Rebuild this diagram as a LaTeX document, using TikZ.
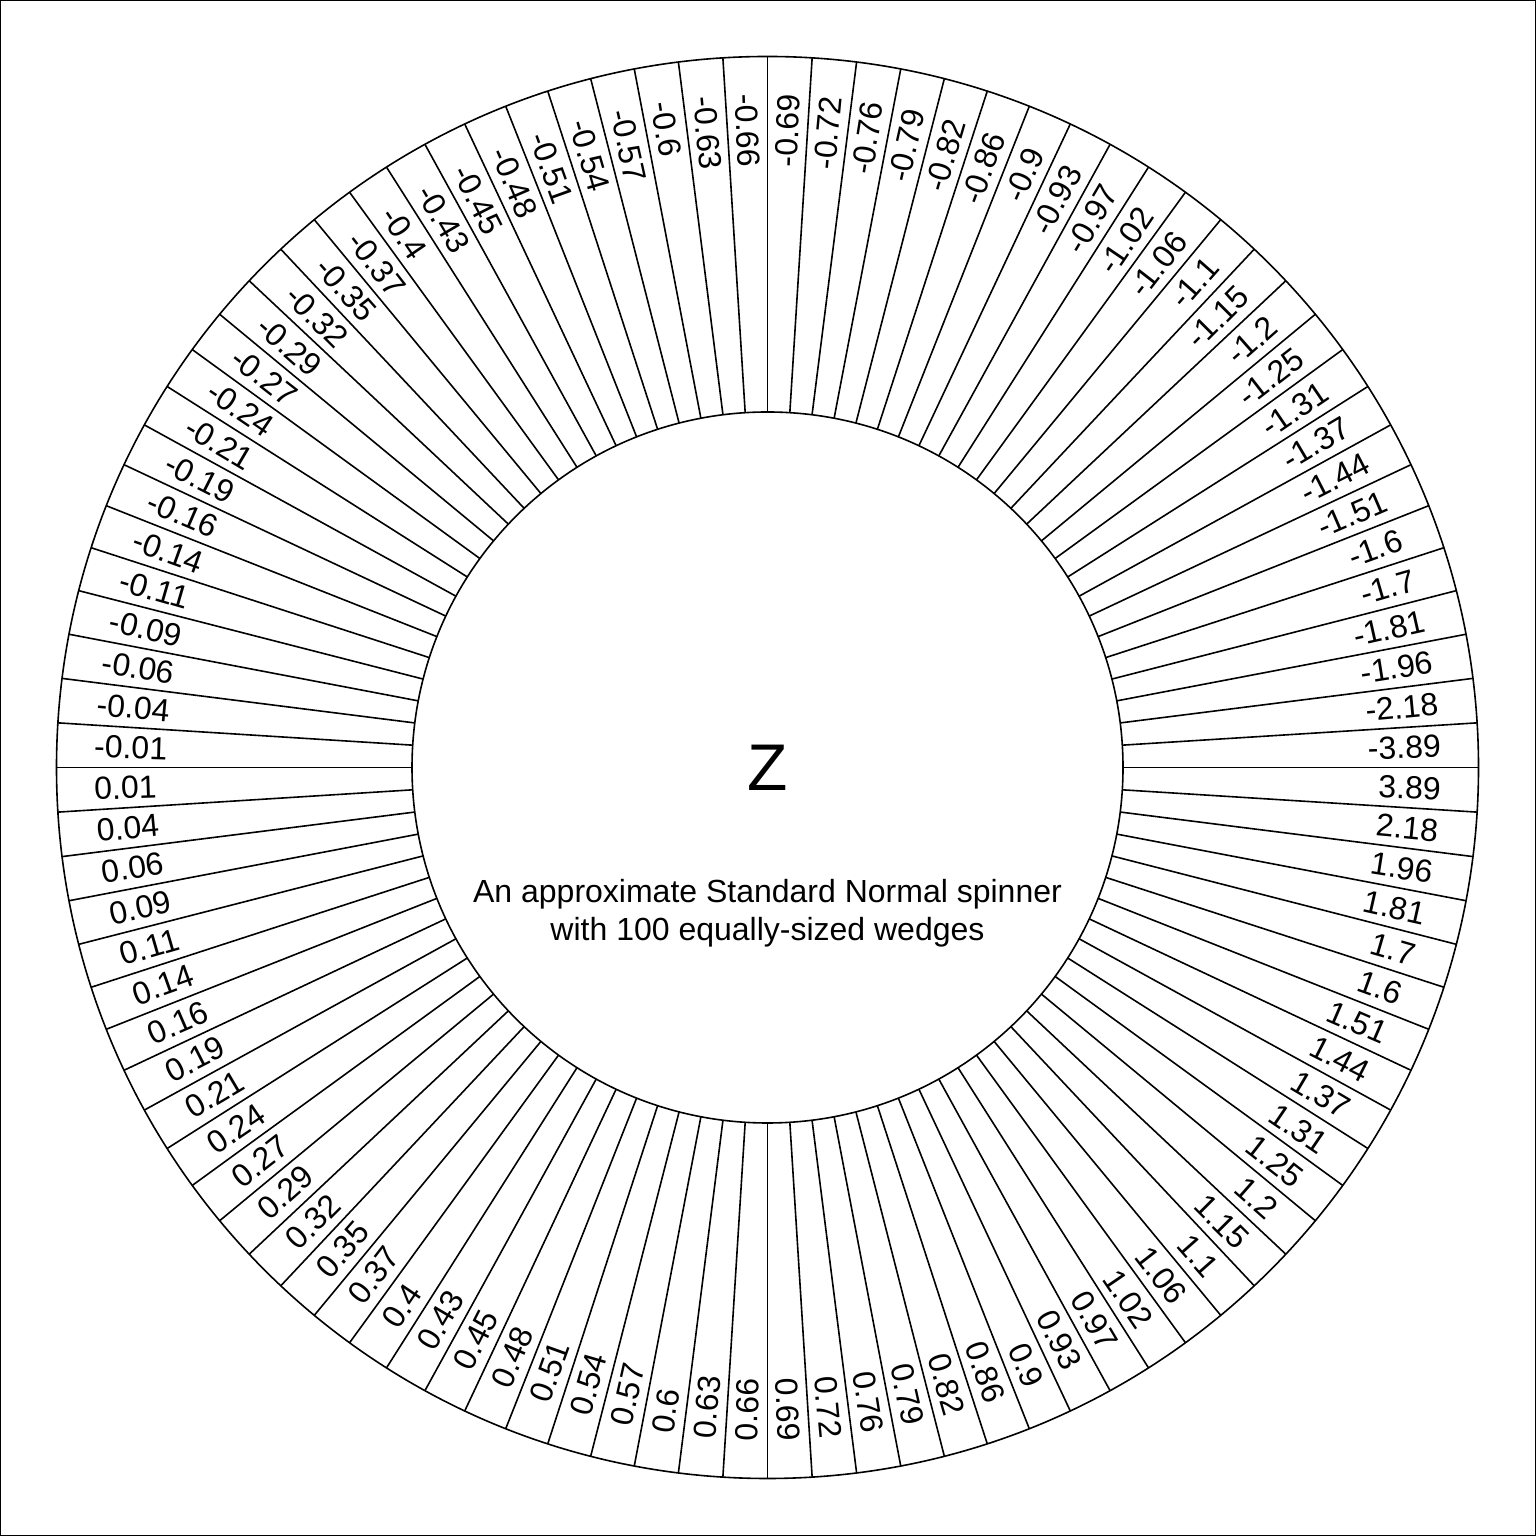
\documentclass[tikz,border=0pt]{standalone}
\usepackage{fontspec}
\setmainfont{Liberation Sans}
\begin{document}
\begin{tikzpicture}[x=0.5pt,y=0.5pt,
  wedge/.style={line width=0.8pt},
  lab/.style={font=\fontsize{16}{19}\selectfont, inner sep=0pt},
  leftlab/.style={lab, anchor=west},
  rightlab/.style={lab, anchor=east},
  captext/.style={font=\fontsize{16}{19}\selectfont, inner sep=0pt, anchor=base}]
\useasboundingbox (0,0) rectangle (1536,1536);
\draw[line width=0.5pt] (0.5,0.5) rectangle (1535.5,1535.5);
\coordinate (c) at (767.5,768.5);
\draw[wedge] (c) circle[radius=355.5pt];
\draw[wedge] (c) circle[radius=177.75pt];
\foreach \m in {0,...,99} {
  \pgfmathsetmacro\aw{3.6*\m}
  \draw[wedge] (c) ++(\aw:355.5) -- ++(\aw:355.5);
}
\foreach \v [count=\k] in {0.01,0.04,0.06,0.09,0.11,0.14,0.16,0.19,0.21,0.24,0.27,0.29,0.32,0.35,0.37,0.4,0.43,0.45,0.48,0.51,0.54,0.57,0.6,0.63,0.66,0.69,0.72,0.76,0.79,0.82,0.86,0.9,0.93,0.97,1.02,1.06,1.1,1.15,1.2,1.25,1.31,1.37,1.44,1.51,1.6,1.7,1.81,1.96,2.18,3.89} {
  \pgfmathsetmacro\ap{180+3.6*(\k-0.5)}
  \pgfmathsetmacro\an{180-3.6*(\k-0.5)}
  \pgfmathsetmacro\rpl{\ap-180}
  \pgfmathsetmacro\rnl{\an-180}
  \ifnum\k<26
    \path (c) ++(\ap:674) node[leftlab, rotate=\rpl] (p\k) {\v};
    \path (c) ++(\an:674) node[leftlab, rotate=\rnl] (n\k) {-\v};
  \else
    \path (c) ++(\ap:674) node[rightlab, rotate=\ap] (p\k) {\v};
    \path (c) ++(\an:674) node[rightlab, rotate=\an] (n\k) {-\v};
  \fi
}
\node[font=\fontsize{33}{40}\selectfont, inner sep=0pt, anchor=base] (z) at (767.5,745) {Z};
\node[captext] (cap1) at (767.5,633) {An approximate Standard Normal spinner};
\node[captext] (cap2) at (767.5,595) {with 100 equally-sized wedges};
\end{tikzpicture}
\end{document}
